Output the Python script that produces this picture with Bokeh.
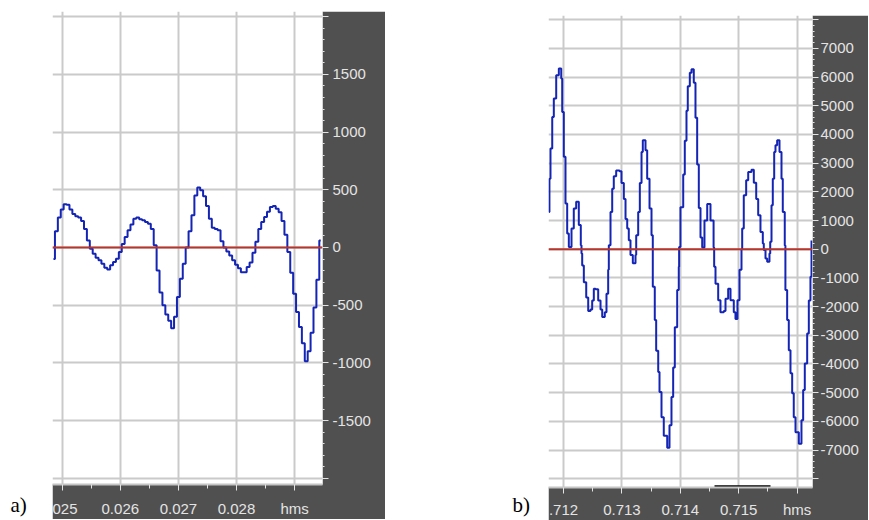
from bokeh.plotting import figure
from bokeh.models import FixedTicker, Span, Range1d, Spacer
from bokeh.layouts import row, column
from bokeh.core.properties import value
from bokeh.embed import file_html
from bokeh.resources import INLINE

# ---------------- Panel a) ----------------
A_T0 = 0.02485        # time of first sample (s)
A_DT = 0.00005        # sampling interval (s)
A_VALUES = [-100, 140, 260, 330, 375, 370, 330, 290, 270, 260,
            230, 160, 60, -10, -55, -90, -110, -140, -175, -190,
            -155, -125, -98, -40, 30, 90, 150, 200, 250, 260,
            245, 235, 220, 205, 160, 20, -200, -390, -500, -580,
            -635, -700, -600, -430, -270, -140, 0, 140, 280, 450,
            520, 495, 445, 360, 250, 170, 160, 150, 55, 0,
            -35, -70, -110, -150, -180, -215, -215, -170, -130, -45,
            50, 160, 220, 265, 310, 350, 360, 335, 305, 230,
            110, -40, -220, -400, -560, -690, -830, -985, -900, -740,
            -520, -280, 60]
A_XRANGE = (0.024833, 0.029480)
A_YRANGE = (-2054, 2045)
A_XTICKS = [0.025, 0.026, 0.027, 0.028, 0.029]
A_XLABELS = ["025", "0.026", "0.027", "0.028", "hms"]   # first label is cut at the left edge
A_XMINOR = [0.0245, 0.0255, 0.0265, 0.0275, 0.0285, 0.0295]
A_YTICKS = [-2000, -1500, -1000, -500, 0, 500, 1000, 1500, 2000]
A_YLABELS = ["", "-1500", "-1000", "-500", "0", "500", "1000", "1500", ""]
A_YMINOR = list(range(-2000, 2001, 100))

# ---------------- Panel b) ----------------
B_TIMES = [0.711748, 0.711759, 0.711777, 0.711807, 0.711834, 0.711875, 0.711920, 0.711961,
           0.711978, 0.712005, 0.712034, 0.712063, 0.712091, 0.712137, 0.712176, 0.712217,
           0.712262, 0.712296, 0.712308, 0.712320, 0.712348, 0.712389, 0.712423, 0.712462,
           0.712491, 0.712519, 0.712548, 0.712594, 0.712634, 0.712663, 0.712707, 0.712736,
           0.712765, 0.712776, 0.712805, 0.712834, 0.712861, 0.712902, 0.712959, 0.712993,
           0.713033, 0.713062, 0.713091, 0.713118, 0.713147, 0.713187, 0.713233, 0.713245,
           0.713279, 0.713307, 0.713336, 0.713358, 0.713404, 0.713433, 0.713473, 0.713507,
           0.713529, 0.713563, 0.713587, 0.713622, 0.713644, 0.713678, 0.713717, 0.713776,
           0.713815, 0.713849, 0.713878, 0.713906, 0.713947, 0.713974, 0.713980, 0.714003,
           0.714050, 0.714077, 0.714106, 0.714128, 0.714163, 0.714192, 0.714231, 0.714260,
           0.714289, 0.714317, 0.714346, 0.714375, 0.714414, 0.714461, 0.714517, 0.714570,
           0.714580, 0.714603, 0.714649, 0.714688, 0.714745, 0.714774, 0.714820, 0.714860,
           0.714916, 0.714945, 0.714979, 0.715014, 0.715048, 0.715060, 0.715087, 0.715128,
           0.715163, 0.715219, 0.715259, 0.715300, 0.715334, 0.715373, 0.715413, 0.715430,
           0.715459, 0.715488, 0.715527, 0.715540, 0.715562, 0.715584, 0.715608, 0.715630,
           0.715659, 0.715699, 0.715733, 0.715755, 0.715789, 0.715800, 0.715830, 0.715858,
           0.715887, 0.715916, 0.715943, 0.715973, 0.716030, 0.716075, 0.716104, 0.716132,
           0.716173, 0.716201, 0.716229, 0.716247]
B_VALUES = [1300, 2460, 3510, 4610, 5250, 6060, 6300, 5950,
            4780, 3220, 1590, 550, 80, 720, 1420, 1650,
            840, 140, -150, -570, -1150, -1680, -2150, -2100,
            -1790, -1380, -1400, -1790, -2100, -2360, -2200, -1550,
            -720, 140, 1300, 2110, 2540, 2740, 2720, 2310,
            1750, 1050, 720, 310, -200, -490, -200, 490,
            1300, 2310, 3390, 3800, 3450, 2460, 1420, 490,
            -1310, -2470, -3540, -4280, -4980, -5860, -6500, -6920,
            -6140, -5150, -4120, -2720, -1420, -610, 80, 1460,
            2600, 3780, 4830, 5680, 6150, 6270, 5800, 4580,
            2950, 1440, 410, 60, 1000, 1580, 1000, 60,
            -610, -1200, -1780, -2200, -2150, -1730, -1380, -1780,
            -2200, -2430, -1780, -720, 0, 720, 1880, 2400,
            2690, 2770, 2320, 1750, 1180, 600, 200, -30,
            -320, -440, -150, 260, 1530, 2460, 3390, 3620,
            3800, 3390, 2460, 1300, 130, -1420, -2470, -3520,
            -4320, -5020, -5860, -6380, -6780, -5960, -4910, -3980,
            -2940, -1790, -960, 300]
B_XRANGE = (0.711743, 0.716264)
B_YRANGE = (-8306, 8146)
B_XTICKS = [0.712, 0.713, 0.714, 0.715, 0.716]
B_XLABELS = [".712", "0.713", "0.714", "0.715", "hms"]  # first label is cut at the left edge
B_XMINOR = [0.7115, 0.7125, 0.7135, 0.7145, 0.7155, 0.7165]
B_YTICKS = list(range(-8000, 8001, 1000))
B_YLABELS = [""] + [str(v) for v in range(-7000, 7001, 1000)] + [""]
B_YMINOR = list(range(-8000, 8001, 200))
B_SELECTION = (0.714586, 0.715545)

DARK = "#505050"
LIGHT = "#e4e4e4"
GRID = "#cacaca"
BLUE = "#1424b4"
RED = "#b8352c"
FONT = "Liberation Sans"


def make_panel(times, values, mode, xr, yr, xticks, xlabels, xminor,
               yticks, ylabels, yminor, fw, fh, br, bb, xstand, ystand):
    p = figure(frame_width=fw, frame_height=fh,
               x_range=Range1d(*xr), y_range=Range1d(*yr),
               x_axis_location="below", y_axis_location="right",
               output_backend="svg", toolbar_location=None,
               min_border_left=0, min_border_top=0,
               min_border_right=br, min_border_bottom=bb,
               border_fill_color=DARK, background_fill_color="white",
               outline_line_color=None)
    for ax, ticks, labels, minor, stand in ((p.xaxis[0], xticks, xlabels, xminor, xstand),
                                            (p.yaxis[0], yticks, ylabels, yminor, ystand)):
        ax.ticker = FixedTicker(ticks=ticks, minor_ticks=minor)
        ax.major_label_overrides = dict(zip(ticks, labels))
        ax.major_label_text_color = LIGHT
        ax.major_label_text_font = FONT
        ax.major_label_text_font_size = "15px"
        ax.major_label_standoff = stand
        ax.major_tick_in = 0
        ax.major_tick_out = 6
        ax.minor_tick_in = 0
        ax.minor_tick_out = 2
        ax.major_tick_line_color = LIGHT
        ax.minor_tick_line_color = LIGHT
        ax.major_tick_line_width = 1
        ax.minor_tick_line_width = 1
    p.xaxis[0].axis_line_color = "#c4c4c4"
    p.xaxis[0].axis_line_width = 2
    p.xaxis[0].minor_tick_out = 4
    p.yaxis[0].axis_line_color = None

    p.xgrid[0].ticker = FixedTicker(ticks=xticks)
    p.ygrid[0].ticker = FixedTicker(ticks=yticks)
    for g in (p.xgrid[0], p.ygrid[0]):
        g.grid_line_color = GRID
        g.grid_line_width = 2

    p.add_layout(Span(location=0, dimension="width", line_color=RED, line_width=2))
    p.step(x=times, y=values, mode=mode, line_color=BLUE, line_width=2)
    return p


a_times = [A_T0 + i * A_DT for i in range(len(A_VALUES))]
pa = make_panel(a_times, A_VALUES, "center", A_XRANGE, A_YRANGE, A_XTICKS, A_XLABELS, A_XMINOR,
                A_YTICKS, A_YLABELS, A_YMINOR, 270, 473, 63, 33, 9, 4)
pb = make_panel(B_TIMES, B_VALUES, "after", B_XRANGE, B_YRANGE, B_XTICKS, B_XLABELS, B_XMINOR,
                B_YTICKS, B_YLABELS, B_YMINOR, 264, 472, 56, 30, 7, 2)
pb.segment(x0=[B_SELECTION[0]], x1=[B_SELECTION[1]], y0=[B_YRANGE[0] + 40], y1=[B_YRANGE[0] + 40],
           line_color="black", line_width=2)


def label_fig(width, height, x, text):
    f = figure(width=width, height=height, x_range=Range1d(0, width), y_range=Range1d(0, height),
               x_axis_location=None, y_axis_location=None,
               output_backend="svg", toolbar_location=None, min_border=0,
               outline_line_color=None, border_fill_color="white")
    f.grid.visible = False
    f.text(x=[x], y=[13], text=[text], text_font=value("Liberation Serif"),
           text_font_size="21px", text_baseline="alphabetic", text_color="black")
    return f


fa = label_fig(52, 517, 10, "a)")
fb = label_fig(163, 517, 127, "b)")

layout = row(fa, column(Spacer(width=333, height=11), pa),
             fb, column(Spacer(width=320, height=15), pb))

open("out.html", "w").write(file_html(layout, INLINE))
